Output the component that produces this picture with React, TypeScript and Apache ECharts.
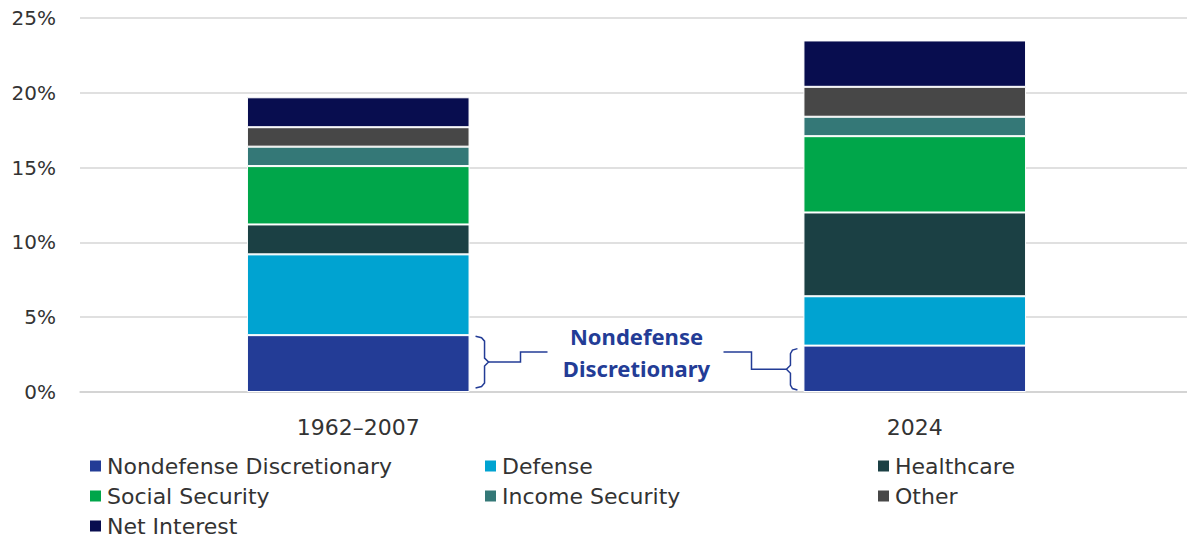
import React, { useEffect, useRef } from "react";
import * as echarts from "echarts";

const categories = ["1962–2007", "2024"];
const seriesNames = [
  "Nondefense Discretionary",
  "Defense",
  "Healthcare",
  "Social Security",
  "Income Security",
  "Other",
  "Net Interest",
];
const nondefense = [3.8, 3.1];
const defense = [5.4, 3.3];
const healthcare = [2.0, 5.6];
const socialSecurity = [3.9, 5.1];
const incomeSecurity = [1.3, 1.3];
const other = [1.3, 2.0];
const netInterest = [2.0, 3.1];
const yTicks = [0, 5, 10, 15, 20, 25];
const annotationLabel = "Nondefense\nDiscretionary";

const colors = ["#233C96", "#00A3D1", "#1B4044", "#00A64A", "#347877", "#474747", "#080D4F"];
const FONT = "'DejaVu Sans', sans-serif";

export default function App() {
  const ref = useRef<HTMLDivElement>(null);
  useEffect(() => {
    if (!ref.current) return;
    const chart = echarts.init(ref.current, undefined, { renderer: "svg" });
    const values = [nondefense, defense, healthcare, socialSecurity, incomeSecurity, other, netInterest];
    const legendStyle = {
      orient: "vertical" as const,
      top: 455,
      icon: "rect",
      itemWidth: 13,
      itemHeight: 13,
      itemGap: 8,
      textStyle: { fontSize: 22, color: "#333", fontFamily: FONT, lineHeight: 22, padding: [0, 0, 0, 0] },
      padding: 0,
      selectedMode: false,
    };
    chart.setOption({
      animation: false,
      grid: { left: 80, right: 0, top: 18, bottom: 147 },
      xAxis: {
        type: "category",
        data: categories,
        axisTick: { show: false },
        axisLine: { lineStyle: { color: "#d0d0d0", width: 1.5 } },
        axisLabel: { fontSize: 22, color: "#333", fontFamily: FONT, margin: 24 },
      },
      yAxis: {
        type: "value",
        min: yTicks[0],
        max: yTicks[yTicks.length - 1],
        interval: 5,
        axisLabel: { formatter: (v: number) => `${v}%`, fontSize: 20, color: "#333", fontFamily: FONT, margin: 24 },
        splitLine: { lineStyle: { color: "#d6d6d6", width: 1.5 } },
        axisLine: { show: false },
        axisTick: { show: false },
      },
      legend: [
        { ...legendStyle, left: 88, data: [seriesNames[0], seriesNames[3], seriesNames[6]] },
        { ...legendStyle, left: 483, data: [seriesNames[1], seriesNames[4]] },
        { ...legendStyle, left: 876, data: [seriesNames[2], seriesNames[5]] },
      ],
      series: seriesNames.map((name, i) => ({
        name,
        type: "bar",
        stack: "total",
        barWidth: "40%",
        data: values[i],
        itemStyle: { color: colors[i], borderColor: "#ffffff", borderWidth: 1 },
      })),
    });

    const x1 = chart.convertToPixel({ xAxisIndex: 0 }, categories[0]) as number;
    const x2 = chart.convertToPixel({ xAxisIndex: 0 }, categories[1]) as number;
    const y0 = chart.convertToPixel({ yAxisIndex: 0 }, 0) as number;
    const yT1 = chart.convertToPixel({ yAxisIndex: 0 }, nondefense[0]) as number;
    const yT2 = chart.convertToPixel({ yAxisIndex: 0 }, nondefense[1]) as number;
    const half = (x2 - x1) * 0.2;
    const cx = (x1 + x2) / 2;
    const ty = y0 - 40;
    const lineStyle = { stroke: "#233C96", lineWidth: 1.5, fill: null };

    // left brace "}"
    const bx = x1 + half + 6;
    const lt = yT1 + 1;
    const lb = y0 - 4;
    const lm = (lt + lb) / 2;
    const leftBrace = [
      [bx, lt], [bx + 6, lt + 1.5], [bx + 9, lt + 5], [bx + 9, lm - 4], [bx + 13, lm],
      [bx + 9, lm + 4], [bx + 9, lb - 5], [bx + 6, lb - 1.5], [bx, lb],
    ];
    const leftConn = [[bx + 13, lm], [cx - 116, lm], [cx - 116, ty], [cx - 89, ty]];

    // right brace "{"
    const rx = x2 - half - 6;
    const rt = yT2 + 3;
    const rb = y0 - 2;
    const rm = (rt + rb) / 2;
    const rightBrace = [
      [rx, rt], [rx - 5, rt + 1.5], [rx - 7, rt + 5], [rx - 7, rm - 4], [rx - 11, rm],
      [rx - 7, rm + 4], [rx - 7, rb - 5], [rx - 5, rb - 1.5], [rx, rb],
    ];
    const rightConn = [[cx + 87, ty], [cx + 115, ty], [cx + 115, rm], [rx - 11, rm]];

    chart.setOption({
      graphic: [
        { type: "polyline", shape: { points: leftBrace }, style: lineStyle, silent: true },
        { type: "polyline", shape: { points: leftConn }, style: lineStyle, silent: true },
        { type: "polyline", shape: { points: rightBrace }, style: lineStyle, silent: true },
        { type: "polyline", shape: { points: rightConn }, style: lineStyle, silent: true },
        {
          type: "text",
          x: cx,
          y: ty,
          silent: true,
          style: {
            text: annotationLabel,
            fill: "#233C96",
            fontSize: 22,
            fontWeight: "bold",
            fontFamily: "'Noto Sans', 'Liberation Sans', sans-serif",
            lineHeight: 32,
            align: "center",
            verticalAlign: "middle",
          },
        },
      ],
    });
    return () => chart.dispose();
  }, []);
  return (
    <div
      ref={ref}
      style={{ position: "fixed", left: 0, top: 0, width: 1193, height: 539, background: "#fff" }}
    />
  );
}
